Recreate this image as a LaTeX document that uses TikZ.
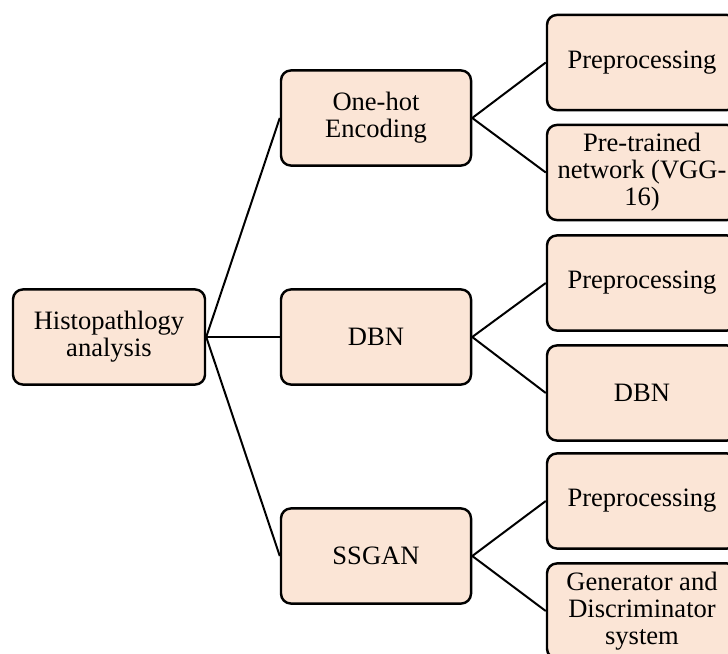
\documentclass[tikz,border=0pt]{standalone}
\usepackage{fontspec}
\setmainfont{Liberation Serif}

\definecolor{boxfill}{HTML}{FBE5D6}

\tikzset{
    box/.style={draw, fill=boxfill, rounded corners=4.5pt, line width=1.1pt,
        minimum width=85.9pt, minimum height=43pt, inner sep=0pt,
        align=center, font=\fontsize{12}{12.2}\selectfont},
    link/.style={line width=0.9pt}
}

\begin{document}
\begin{tikzpicture}[x=0.452pt, y=-0.452pt]

    % Frame of the page
    \useasboundingbox (0,0) rectangle (728,653);
    \clip (0,0) rectangle (728,653);

    % Common settings
    \def\midX{376}
    \def\leafX{642}

    % Root
    \node[box, minimum width=86.8pt] (root) at (109,337) {Histopathlogy\\analysis};

    %%%% First branch
    \node[box] (onehot) at (\midX,118) {One-hot\\Encoding};
    \node[box] (prepA) at (\leafX,62.5) {Preprocessing};
    \node[box] (vgg) at (\leafX,172.5) {Pre-trained\\network (VGG-\\16)};

    %%%% Second branch
    \node[box] (dbn) at (\midX,337) {DBN};
    \node[box] (prepB) at (\leafX,283) {Preprocessing};
    \node[box] (dbnB) at (\leafX,393) {DBN};

    %%%% Third branch
    \node[box] (ssgan) at (\midX,556) {SSGAN};
    \node[box] (prepC) at (\leafX,501) {Preprocessing};
    \node[box] (gen) at (\leafX,611) {Generator and\\Discriminator\\system};

    % Links
    \draw[link] (root.east) -- (onehot.west);
    \draw[link] (root.east) -- (dbn.west);
    \draw[link] (root.east) -- (ssgan.west);
    \draw[link] (onehot.east) -- (prepA.west);
    \draw[link] (onehot.east) -- (vgg.west);
    \draw[link] (dbn.east) -- (prepB.west);
    \draw[link] (dbn.east) -- (dbnB.west);
    \draw[link] (ssgan.east) -- (prepC.west);
    \draw[link] (ssgan.east) -- (gen.west);

\end{tikzpicture}
\end{document}
